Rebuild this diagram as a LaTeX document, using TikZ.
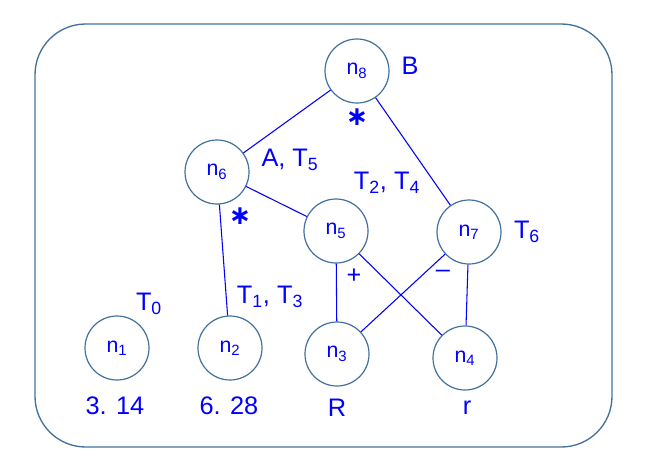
\documentclass[tikz,border=0pt]{standalone}
\usepackage{fontspec}
\setmainfont{Liberation Sans}
\newfontfamily\symfont{DejaVu Sans}
\usetikzlibrary{positioning}
\definecolor{ringgray}{HTML}{41719C}
\definecolor{inkblue}{RGB}{0,0,255}

\begin{document}
\begin{tikzpicture}[
				x=0.75pt, y=-0.75pt,
				vertex/.style={circle, draw=ringgray, line width=0.9pt, fill=white, minimum size=48pt, inner sep=0pt, text=inkblue, font=\fontsize{16}{16}\selectfont},
				tag/.style={text=inkblue, font=\fontsize{19}{19}\selectfont, inner sep=1pt},
				star/.style={text=inkblue, font=\symfont\bfseries\fontsize{20}{20}\selectfont, inner sep=0pt},
				edge/.style={draw=inkblue, line width=0.8pt},
				frame/.style={draw=ringgray, line width=1pt, rounded corners=38pt}
			]
			\useasboundingbox (0,0) rectangle (646,475);
			\draw[frame] (35,24) rectangle (612,447);

			% vertices
			\node[vertex] (n8) at (357,71) {n\textsubscript{8}};
			\node[vertex] (n6) at (217,172) {n\textsubscript{6}};
			\node[vertex] (n5) at (336,231) {n\textsubscript{5}};
			\node[vertex] (n7) at (469,232) {n\textsubscript{7}};
			\node[vertex] (n1) at (117,348) {n\textsubscript{1}};
			\node[vertex] (n2) at (230,348) {n\textsubscript{2}};
			\node[vertex] (n3) at (337,354) {n\textsubscript{3}};
			\node[vertex] (n4) at (465,358) {n\textsubscript{4}};

			% edges
			\draw[edge] (n8) -- (n6);
			\draw[edge] (n8) -- (n7);
			\draw[edge] (n6) -- (n2);
			\draw[edge] (n6) -- (n5);
			\draw[edge] (n5) -- (n3);
			\draw[edge] (n5) -- (n4);
			\draw[edge] (n7) -- (n3);
			\draw[edge] (n7) -- (n4);

			% labels
			\node[tag] (lab_n8) at (410,66) {B};
			\node[star] (op_n8) at (357,117) {∗};
			\node[tag] (lab_n6) at (290,160) {A, T\textsubscript{5}};
			\node[star] (op_n6) at (240,216) {∗};
			\node[tag] (lab_n5) at (387,183) {T\textsubscript{2}, T\textsubscript{4}};
			\node[tag] (lab_n7) at (527,232) {T\textsubscript{6}};
			\node[tag] (op_n5) at (354,276) {+};
			\node[tag] (op_n7) at (443,274) {\textendash};
			\node[tag] (lab_n1) at (149,304) {T\textsubscript{0}};
			\node[tag] (lab_n2) at (270,297) {T\textsubscript{1}, T\textsubscript{3}};
			\node[tag] (val_n1) at (115,406) {3. 14};
			\node[tag] (val_n2) at (229,406) {6. 28};
			\node[tag] (val_n3) at (337,408) {R};
			\node[tag] (val_n4) at (467,408) {r};

		\end{tikzpicture}
\end{document}
